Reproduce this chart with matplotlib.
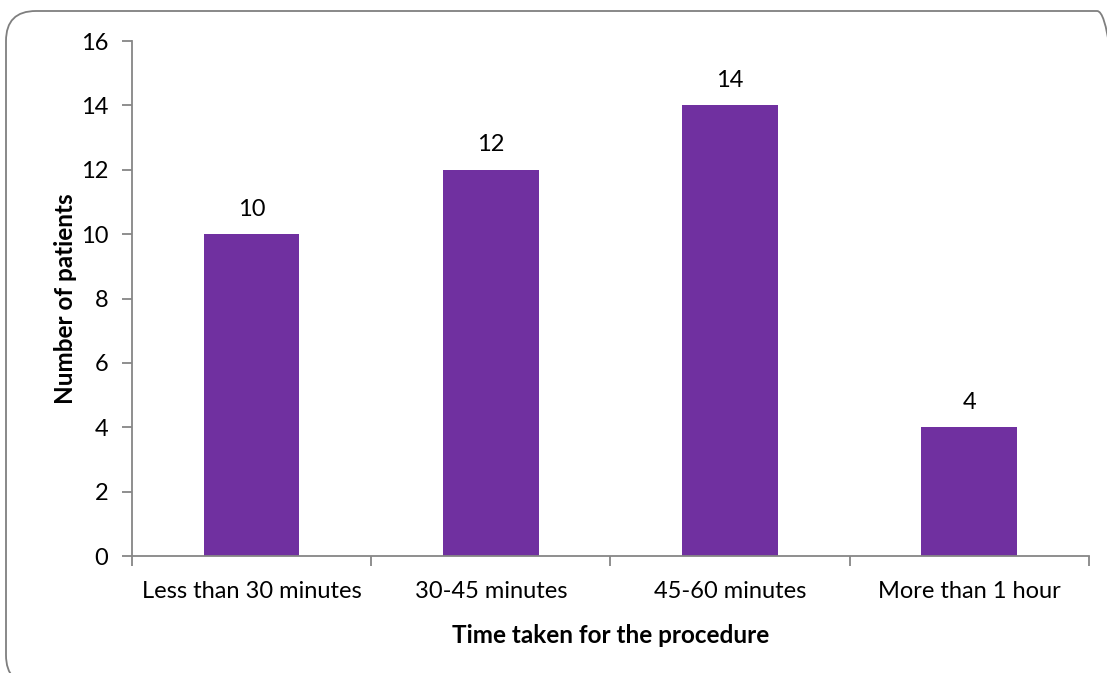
import matplotlib
matplotlib.use("Agg")
import matplotlib.pyplot as plt
from matplotlib.patches import FancyBboxPatch

# ---- data ----
categories = ["Less than 30 minutes", "30-45 minutes", "45-60 minutes", "More than 1 hour"]
patients = [10, 12, 14, 4]

BAR_COLOR = "#7030A0"
AXIS_GREY = "#868686"
FS = 17

plt.rcParams["font.family"] = ["Lato", "DejaVu Sans"]

fig = plt.figure(figsize=(11.07, 6.73), dpi=100)
ax = fig.add_axes([0.1192, 0.1738, 0.8645, 0.7652])

x = list(range(len(categories)))
ax.bar(x, patients, width=0.4, color=BAR_COLOR)
for xi, v in zip(x, patients):
    ax.text(xi, v + 0.45, str(v), ha="center", va="bottom", fontsize=FS)

ax.set_xlim(-0.5, len(categories) - 0.5)
ax.set_ylim(0, 16)
ax.set_yticks(range(0, 17, 2))
ax.set_xticks(x)
ax.set_xticklabels(categories, fontsize=FS)
ax.set_xticks([i - 0.5 for i in range(len(categories) + 1)], minor=True)
ax.tick_params(axis="x", which="major", length=0, pad=18)
ax.tick_params(axis="x", which="minor", length=7, color=AXIS_GREY, width=1.3)
ax.tick_params(axis="y", length=7, color=AXIS_GREY, width=1.3, labelsize=FS, pad=10)

for s in ("top", "right"):
    ax.spines[s].set_visible(False)
for s in ("left", "bottom"):
    ax.spines[s].set_color(AXIS_GREY)
    ax.spines[s].set_linewidth(1.3)

ax.set_xlabel("Time taken for the procedure", fontsize=17.5, fontweight="bold", labelpad=16)
ax.set_ylabel("Number of patients", fontsize=17.5, fontweight="bold", labelpad=3)

# rounded chart-area border (runs past the right and bottom edges)
border = FancyBboxPatch((6 / 1107, -12 / 673), 1121 / 1107, 674 / 673,
                        boxstyle="round,pad=0,rounding_size=0.027",
                        transform=fig.transFigure, fill=False,
                        edgecolor="#7f7f7f", linewidth=1.3,
                        mutation_aspect=1107 / 673)
fig.patches.append(border)

fig.savefig("out.png", dpi=100)
